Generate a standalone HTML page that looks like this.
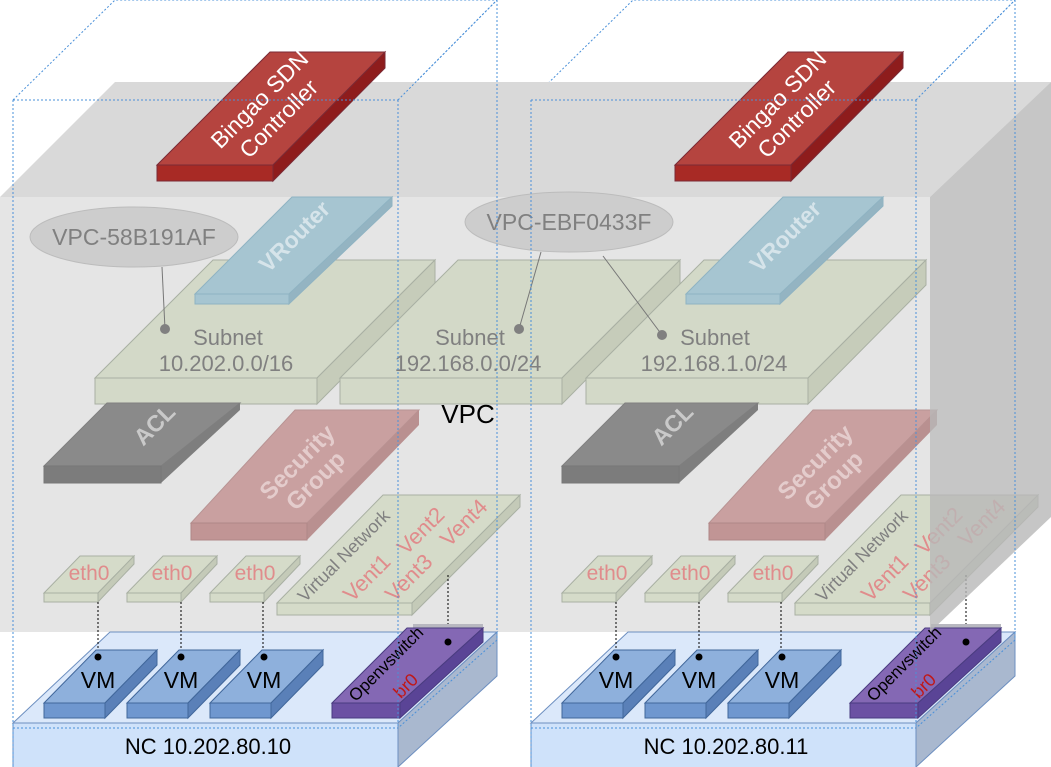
<!DOCTYPE html>
<html><head><meta charset="utf-8"><style>
html,body{margin:0;padding:0;background:#fff;}
svg{display:block;font-family:"Liberation Sans",sans-serif;}
</style></head><body>
<svg width="1051" height="767" viewBox="0 0 1051 767" xmlns="http://www.w3.org/2000/svg">
<defs>
<g id="vm">
  <polygon points="0,53 52,0 113,0 61,53" fill="#8eb0dc" stroke="#41679b"/>
  <polygon points="61,53 113,0 113,15 61,68" fill="#5a80b8" stroke="#41679b"/>
  <rect x="0" y="53" width="61" height="15" fill="#6f97cf" stroke="#41679b"/>
  <text x="54" y="38" font-size="23" text-anchor="middle">VM</text>
  <circle cx="54" cy="7" r="3.5" fill="#000"/>
</g>
<g id="eth">
  <polygon points="0,37 36,0 90,0 54,37" fill="#d5dbc9" stroke="#a9b0a3"/>
  <polygon points="54,37 90,0 90,8 54,46" fill="#c4cab8" stroke="#a9b0a3"/>
  <rect x="0" y="37" width="54" height="9" fill="#d5dbc9" stroke="#a9b0a3"/>
  <text x="45" y="24" font-size="21" text-anchor="middle" fill="#e08c8c">eth0</text>
</g>
</defs>

<g fill="none" stroke="#4a90d9" stroke-width="1" stroke-dasharray="2,2">
  <polyline points="13,100 115,0 497,0 398,100"/>
  <polyline points="531,100 633,0 1015,0 916,100"/>
</g>

<!-- gray VPC box -->
<polygon points="0,197 115,82 1051,82 930,197" fill="#d9d9d9"/>
<rect x="0" y="197" width="930" height="435" fill="#e5e5e5"/>

<!-- NC bases -->
<polygon points="13,723 110,632 497,632 398,723" fill="#dbe8fa" stroke="#6d8fc0"/>
<polygon points="398,723 497,632 497,676 398,767" fill="#a9b8cf" stroke="#6d8fc0"/>
<rect x="13" y="723" width="385" height="46" fill="#cfe2fa" stroke="#6d8fc0"/>
<text x="208" y="754" font-size="22" text-anchor="middle">NC 10.202.80.10</text>
<polygon points="531,723 628,632 1015,632 916,723" fill="#dbe8fa" stroke="#6d8fc0"/>
<polygon points="916,723 1015,632 1015,676 916,767" fill="#a9b8cf" stroke="#6d8fc0"/>
<rect x="531" y="723" width="385" height="46" fill="#cfe2fa" stroke="#6d8fc0"/>
<text x="726" y="754" font-size="22" text-anchor="middle">NC 10.202.80.11</text>

<!-- Controllers -->
<g id="ctl">
<polygon points="157,165 270,52 385,52 273,165" fill="#b5443f" stroke="#7a2a35"/>
<polygon points="273,165 385,52 385,68 273,181" fill="#8e1c1c" stroke="#7a2a35"/>
<rect x="157" y="165" width="116" height="16" fill="#a82a25" stroke="#7a2a35"/>
<g transform="translate(268,108) rotate(-45)" fill="#fff" font-size="23" text-anchor="middle">
<text x="0" y="-4">Bingao SDN</text><text x="0" y="23">Controller</text></g>
</g>
<use href="#ctl" transform="translate(518,0)"/>

<!-- Subnets -->
<g id="sub">
<polygon points="95,378 213,260 435,260 317,378" fill="#d3d9c8" stroke="#a9b0a3"/>
<polygon points="317,378 435,260 435,285 317,404" fill="#c6ccba" stroke="#a9b0a3"/>
<rect x="95" y="378" width="222" height="26" fill="#d3d9c8" stroke="#a9b0a3"/>
</g>
<use href="#sub" transform="translate(245,0)"/>
<use href="#sub" transform="translate(491,0)"/>
<g font-size="22" fill="#808080" text-anchor="middle">
<text x="228" y="345">Subnet</text><text x="226" y="371">10.202.0.0/16</text>
<text x="470" y="345">Subnet</text><text x="468" y="371">192.168.0.0/24</text>
<text x="715" y="345">Subnet</text><text x="714" y="371">192.168.1.0/24</text>
</g>

<!-- VRouters -->
<g id="vr">
<polygon points="195,294 292,197 392,197 289,294" fill="#a6c5d1" stroke="#8fb3c2"/>
<polygon points="289,294 392,197 392,206 289,304" fill="#94b4c2" stroke="#8fb3c2"/>
<rect x="195" y="294" width="94" height="10" fill="#a6c5d1" stroke="#8fb3c2"/>
<text transform="translate(300,242) rotate(-45)" font-size="23" font-weight="bold" fill="#d6e4ea" text-anchor="middle">VRouter</text>
</g>
<use href="#vr" transform="translate(491,0)"/>

<g id="acl">
<polygon points="44,466 107,403 240,403 161,466" fill="#8a8a8a" stroke="#808080"/>
<polygon points="161,466 240,403 240,410 161,483" fill="#7e7e7e"/>
<rect x="44" y="466" width="117" height="17" fill="#7c7c7c" stroke="#777"/>
<text transform="translate(160,430) rotate(-45)" font-size="23" font-weight="bold" fill="#c9c9c9" text-anchor="middle">ACL</text>
<polygon points="191,523 295,410 419,410 307,523" fill="#c9a0a0" stroke="#b89494"/>
<polygon points="307,523 419,410 419,425 307,540" fill="#b99090"/>
<rect x="191" y="523" width="116" height="17" fill="#c19595" stroke="#b08888"/>
<g transform="translate(305,470) rotate(-45)" font-size="24" font-weight="bold" fill="#e4cccc" text-anchor="middle">
<text x="0" y="-3">Security</text><text x="0" y="23">Group</text></g>
<polygon points="277,603 383,495 520,495 412,603" fill="#d5dbc9" stroke="#a9b0a3"/>
<polygon points="412,603 520,495 520,507 412,615" fill="#c4cab8" stroke="#a9b0a3"/>
<rect x="277" y="603" width="135" height="12" fill="#d5dbc9" stroke="#a9b0a3"/>
<text transform="translate(348,560) rotate(-45)" font-size="18" fill="#808080" text-anchor="middle">Virtual Network</text>
<text transform="translate(372,583) rotate(-45)" font-size="22" fill="#e08c8c" text-anchor="middle">Vent1</text>
<text transform="translate(426,536) rotate(-45)" font-size="22" fill="#e08c8c" text-anchor="middle">Vent2</text>
<text transform="translate(414,583) rotate(-45)" font-size="22" fill="#e08c8c" text-anchor="middle">Vent3</text>
<text transform="translate(469,528) rotate(-45)" font-size="22" fill="#e08c8c" text-anchor="middle">Vent4</text>
<use href="#eth" x="44" y="556"/>
<use href="#eth" x="127" y="556"/>
<use href="#eth" x="210" y="556"/>
<g stroke="#000" stroke-dasharray="2,2" stroke-width="1">
<line x1="98" y1="602" x2="98" y2="657"/>
<line x1="181" y1="602" x2="181" y2="657"/>
<line x1="263" y1="602" x2="263" y2="657"/>
<line x1="448" y1="575" x2="448" y2="642"/>
</g>
<use href="#vm" x="44" y="650"/>
<use href="#vm" x="127" y="650"/>
<use href="#vm" x="210" y="650"/>
<rect x="413" y="624" width="70" height="9" fill="#b8b8c0"/>
<polygon points="332,703 407,628 483,628 400,703" fill="#8468b4" stroke="#4a3c80"/>
<polygon points="400,703 483,628 483,642 400,718" fill="#5a4496" stroke="#4a3c80"/>
<rect x="332" y="703" width="68" height="15" fill="#6b51a3" stroke="#4a3c80"/>
<text transform="translate(390,668) rotate(-45)" font-size="17" fill="#000" text-anchor="middle">Openvswitch</text>
<text transform="translate(410,690) rotate(-45)" font-size="18" fill="#c01818" text-anchor="middle">br0</text>
<circle cx="448" cy="642" r="3.5" fill="#000"/>
</g>
<use href="#acl" transform="translate(518,0)"/>

<polygon points="930,197 1051,82 1051,517 930,632" fill="#b8b8b8" opacity="0.8"/>

<ellipse cx="134" cy="237" rx="104" ry="30" fill="#cdcdcd" stroke="#bcbcbc"/>
<text x="134" y="245" font-size="23" fill="#808080" text-anchor="middle">VPC-58B191AF</text>
<ellipse cx="569" cy="222" rx="104" ry="30" fill="#cdcdcd" stroke="#bcbcbc"/>
<text x="569" y="230" font-size="23" fill="#808080" text-anchor="middle">VPC-EBF0433F</text>
<g stroke="#777" stroke-width="1">
<line x1="162" y1="267" x2="165" y2="329"/>
<line x1="541" y1="252" x2="519" y2="329"/>
<line x1="603" y1="256" x2="662" y2="335"/>
</g>
<g fill="#808080"><circle cx="165" cy="329" r="5"/><circle cx="519" cy="329" r="5"/><circle cx="662" cy="335" r="5"/></g>

<text x="468" y="423" font-size="26" fill="#000" text-anchor="middle">VPC</text>

<g fill="none" stroke="#4a90d9" stroke-width="1" stroke-dasharray="2,2">
  <line x1="13" y1="100" x2="398" y2="100"/>
  <line x1="398" y1="100" x2="497" y2="0"/>
  <line x1="497" y1="0" x2="497" y2="640"/>
  <line x1="13" y1="100" x2="13" y2="767"/>
  <line x1="398" y1="100" x2="398" y2="728"/>
  <line x1="497" y1="640" x2="398" y2="728"/>
  <line x1="13" y1="728" x2="398" y2="728"/>
  <line x1="531" y1="100" x2="916" y2="100"/>
  <line x1="916" y1="100" x2="1015" y2="0"/>
  <line x1="1015" y1="0" x2="1015" y2="640"/>
  <line x1="531" y1="100" x2="531" y2="767"/>
  <line x1="916" y1="100" x2="916" y2="728"/>
  <line x1="1015" y1="640" x2="916" y2="728"/>
  <line x1="531" y1="728" x2="916" y2="728"/>
</g>
</svg>
</body></html>
